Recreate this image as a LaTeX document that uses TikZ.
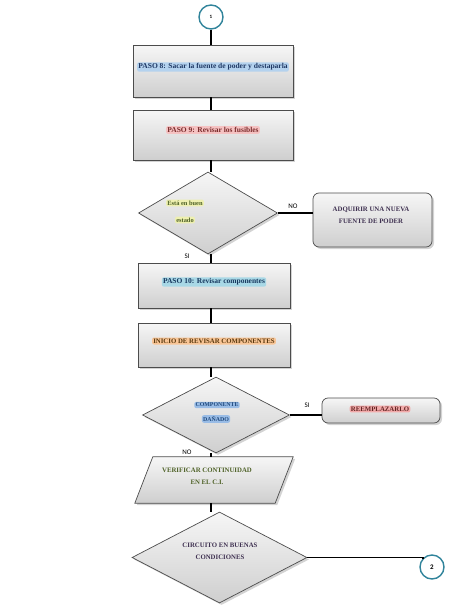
\documentclass[tikz,border=0pt]{standalone}
\usepackage{fontspec}
\setmainfont{Liberation Serif}
\setsansfont{Carlito}
\usetikzlibrary{shapes.geometric,shadows}
\definecolor{teal1}{HTML}{31849B}
\definecolor{navy1}{HTML}{1F3864}
\definecolor{glowblue}{HTML}{B4D2EE}
\definecolor{darkred1}{HTML}{7B2C2C}
\definecolor{glowpink}{HTML}{F5C2C2}
\definecolor{olive1}{HTML}{4F6228}
\definecolor{glowyellow}{HTML}{EEF0B0}
\definecolor{purple1}{HTML}{3F3151}
\definecolor{navy2}{HTML}{17375E}
\definecolor{glowcyan}{HTML}{A8D8E6}
\definecolor{brown1}{HTML}{5A3A10}
\definecolor{gloworange}{HTML}{F9C596}
\definecolor{blue1}{HTML}{1F497D}
\definecolor{glowblue2}{HTML}{99BCE6}
\definecolor{red2}{HTML}{632523}
\definecolor{glowred}{HTML}{F2AAAA}
\begin{document}
\begin{tikzpicture}[x=1pt,y=-1pt,
  shapebase/.style={draw=gray!60!black, line width=0.7pt, top color=gray!7, bottom color=gray!38,
    drop shadow={shadow xshift=2pt,shadow yshift=-2pt,opacity=0.35}, inner sep=0pt},
  stepbox/.style={shapebase, rectangle},
  roundbox/.style={shapebase, rectangle, rounded corners=6pt},
  decision/.style={shapebase, diamond},
  conn/.style={circle, draw=teal1, line width=1.4pt, fill=white, inner sep=0pt, minimum size=24pt, font=\sffamily\bfseries\fontsize{5}{6}\selectfont},
  link/.style={draw=black, line width=1.3pt},
  lbl/.style={font=\sffamily\fontsize{7}{8}\selectfont, inner sep=0pt},
  tag/.style={fill=#1, rounded corners=2pt, inner sep=1.2pt},
  txt/.style={font=\bfseries\fontsize{7.5}{9}\selectfont, inner sep=1pt},
  captxt/.style={font=\bfseries\fontsize{6.8}{8}\selectfont, inner sep=1pt},
  smalltxt/.style={font=\bfseries\fontsize{5.9}{7}\selectfont, inner sep=1pt}
]
\path[use as bounding box] (0,0) rectangle (474,613);

% shapes
\node[conn] (c1) at (211,17) {1};
\node[stepbox, minimum width=160pt, minimum height=52pt] (b1) at (213,71) {};
\node[stepbox, minimum width=160pt, minimum height=50pt] (b2) at (213,135) {};
\node[decision, minimum width=139pt, minimum height=82pt] (d1) at (208,213) {};
\node[roundbox, minimum width=119pt, minimum height=54pt] (adq) at (372.5,220) {};
\node[stepbox, minimum width=152pt, minimum height=45pt] (b3) at (214,285.5) {};
\node[stepbox, minimum width=152pt, minimum height=44pt] (b4) at (214,345) {};
\node[decision, minimum width=147pt, minimum height=76pt] (d2) at (216,415) {};
\node[roundbox, minimum width=118pt, minimum height=25pt] (rem) at (381,410.5) {};
\node[rectangle, inner sep=0pt, minimum width=140pt, minimum height=46pt] (par) at (214,480) {};
\path[shapebase] ([xshift=9pt]par.north west) -- ([xshift=9pt]par.north east)
   -- ([xshift=-9pt]par.south east) -- ([xshift=-9pt]par.south west) -- cycle;
\node[decision, minimum width=175pt, minimum height=91pt] (d3) at (219.5,557.5) {};
\node[conn, font=\sffamily\bfseries\fontsize{7}{8}\selectfont] (c2) at (432,567) {2};

% connectors
\draw[link] (c1.south) -- (c1.south |- b1.north);
\draw[link] (c1.south |- b1.south) -- (c1.south |- b2.north);
\draw[link] (c1.south |- b2.south) -- (c1.south |- d1.north);
\draw[link] (d1.east) -- (d1.east -| adq.west);
\draw[link] (c1.south |- d1.south) -- (c1.south |- b3.north);
\draw[link] (c1.south |- b3.south) -- (c1.south |- b4.north);
\draw[link] (c1.south |- b4.south) -- (c1.south |- d2.north);
\draw[link] (d2.east) -- (d2.east -| rem.west);
\draw[link] (c1.south |- d2.south) -- (c1.south |- par.north);
\draw[link] (c1.south |- par.south) -- (c1.south |- d3.north);
\draw[link] (d3.east) -- (d3.east -| c2.north west) -- (c2.north west);

% labels
\node[lbl] (no1) at (293,206) {NO};
\node[lbl] (si1) at (187,256) {SI};
\node[lbl] (si2) at (307,405) {SI};
\node[lbl] (no2) at (187,452) {NO};

% texts
\node[txt, tag=glowblue, text=navy1] (t1) at (213,67) {PASO 8: Sacar la fuente de poder y destaparla};
\node[txt, tag=glowpink, text=darkred1] (t2) at (213,130) {PASO 9: Revisar los fusibles};
\node[smalltxt, tag=glowyellow, text=olive1, font=\bfseries\fontsize{6.4}{7}\selectfont] (t3a) at (185,203) {Está en buen};
\node[smalltxt, tag=glowyellow, text=olive1, font=\bfseries\fontsize{6.4}{7}\selectfont] (t3b) at (185,220) {estado};
\node[captxt, text=purple1, align=center] (t4) at (371,215) {ADQUIRIR UNA NUEVA\\[4pt]FUENTE DE PODER};
\node[txt, tag=glowcyan, text=navy2] (t5) at (214,282) {PASO 10: Revisar componentes};
\node[captxt, tag=gloworange, text=brown1] (t6) at (214,341) {INICIO DE REVISAR COMPONENTES};
\node[smalltxt, tag=glowblue2, text=blue1] (t7a) at (217,405) {COMPONENTE};
\node[smalltxt, tag=glowblue2, text=blue1] (t7b) at (216,419) {DAÑADO};
\node[captxt, tag=glowred, text=red2] (t8) at (380,409) {REEMPLAZARLO};
\node[captxt, text=olive1, align=center] (t9) at (207,476) {VERIFICAR CONTINUIDAD\\[4pt]EN EL C.I.};
\node[captxt, text=purple1, align=center] (t10) at (220,551) {CIRCUITO EN BUENAS\\[4pt]CONDICIONES};
\end{tikzpicture}
\end{document}
